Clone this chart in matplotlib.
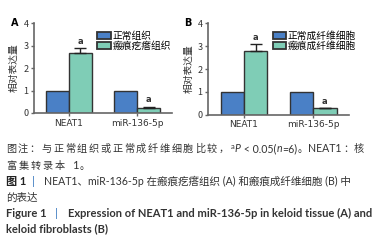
import matplotlib

matplotlib.use("Agg")

import matplotlib.pyplot as plt

plt.rcParams["font.family"] = ["Noto Sans CJK SC", "DejaVu Sans"]

# -------------------------------------------------------------------------
# Données
# -------------------------------------------------------------------------

genes = ["NEAT1", "miR-136-5p"]

tissue_normal = [1.0, 1.0]
tissue_keloid = [2.67, 0.24]
tissue_keloid_err = [0.20, 0.03]

cells_normal = [1.0, 1.0]
cells_keloid = [2.80, 0.29]
cells_keloid_err = [0.27, 0.0]

legend_a = ["正常组织", "瘢痕疙瘩组织"]
legend_b = ["正常成纤维细胞", "瘢痕成纤维细胞"]

BLUE = "#4a80c6"
GREEN = "#7fcdb6"
EDGE = "#333333"
AXIS = "#666666"
TXT = "#333333"
BAR_BLUE = "#2a6ebb"

MIXED = ["Lato", "Noto Sans CJK SC"]
W, H = 384, 243


def panel(ax, normal, keloid, err, labels, letter):
    w = 0.335
    pos = range(len(genes))
    b1 = ax.bar([p - w / 2 for p in pos], normal, w, color=BLUE,
                edgecolor=EDGE, linewidth=1.0)
    b2 = ax.bar([p + w / 2 for p in pos], keloid, w, color=GREEN,
                edgecolor=EDGE, linewidth=1.0)
    ax.errorbar([p + w / 2 for p in pos], keloid, yerr=[[0] * len(err), err],
                fmt="none", ecolor="#222222", elinewidth=1.0, capsize=4,
                capthick=1.0)
    for p, v, e in zip(pos, keloid, err):
        ax.text(p + w / 2, v + e + 0.12, "a", ha="center", va="bottom",
                fontsize=6, fontweight="bold", color=TXT,
                family="DejaVu Sans")
    ax.set_ylim(0, 4)
    ax.set_xlim(-0.515, 1.515)
    ax.set_yticks([0, 1, 2, 3, 4])
    ax.set_xticks(list(pos))
    ax.set_xticklabels(genes, fontsize=6.5, color=TXT, family="DejaVu Sans")
    ax.tick_params(axis="y", labelsize=6.5, length=2.5, width=1.0,
                   color=AXIS, pad=1.5, labelcolor=TXT)
    ax.tick_params(axis="x", length=2.5, width=1.0, color=AXIS, pad=1.5)
    for s in ["top", "right"]:
        ax.spines[s].set_visible(False)
    for s in ["left", "bottom"]:
        ax.spines[s].set_color(AXIS)
        ax.spines[s].set_linewidth(1.2)
    ax.set_ylabel("相对表达量", fontsize=7, color=TXT, labelpad=3)
    leg = ax.legend([b1, b2], labels, loc="upper left",
                    bbox_to_anchor=(0.41, 0.99), frameon=False, fontsize=7,
                    handlelength=1.4, handleheight=0.75, handletextpad=0.15,
                    labelspacing=0.05, borderpad=0.2)
    for h in leg.legend_handles:
        h.set_linewidth(1.3)
    ax.text(-0.17, 1.0, letter, transform=ax.transAxes, fontsize=7,
            fontweight="bold", family="DejaVu Sans", va="center")


fig = plt.figure(figsize=(3.84, 2.43), dpi=100)

ax_a = fig.add_axes([0.0885, 0.535, 0.36, 0.37])
panel(ax_a, tissue_normal, tissue_keloid, tissue_keloid_err, legend_a, "A")

ax_b = fig.add_axes([0.542, 0.527, 0.367, 0.378])
panel(ax_b, cells_normal, cells_keloid, cells_keloid_err, legend_b, "B")

# -------------------------------------------------------------------------
# Légende de la figure (positions en pixels)
# -------------------------------------------------------------------------

renderer = fig.canvas.get_renderer()


def put(x, base, s, **kw):
    kw.setdefault("color", TXT)
    kw.setdefault("family", MIXED)
    t = fig.text(x / W, 1 - base / H, s, va="baseline", **kw)
    return x + t.get_window_extent(renderer).width


def spaced(x, base, s, pitch, fs):
    for ch in s:
        fig.text(x / W, 1 - base / H, ch, va="baseline", fontsize=fs,
                 color=TXT, family=MIXED)
        x += pitch
    return x


fs_cn = 7.3
fs_en = 8.0

# ligne 1
b = 152
x = spaced(6, b, "图注：与正常组织或正常成纤维细胞比较，", 11.8, fs_cn)
x = put(x + 1, b - 3.5, "a", fontsize=5.5)
x = put(x, b, "P", fontsize=7.6, style="italic")
x = put(x, b, " < 0.05(", fontsize=7.6)
x = put(x, b, "n", fontsize=7.6, style="italic")
x = put(x, b, "=6)", fontsize=7.6)
x = spaced(x + 1, b, "。", 10.5, fs_cn)
x = put(x, b, "NEAT1", fontsize=7.6)
spaced(x + 1, b, "：核", 10.5, fs_cn)

# ligne 2
b = 169
x = spaced(6, b, "富集转录本", 12.2, fs_cn)
x = put(x + 5, b, "1", fontsize=fs_en)
spaced(x + 1, b, "。", 11.8, fs_cn)

# ligne 3-4
b = 185
x = put(6, b, "图 1", fontsize=fs_en, fontweight="bold", color="#222222")
put(32, b, "|", fontsize=fs_en, color=BAR_BLUE)
put(44, b, "NEAT1、miR-136-5p 在瘢痕疙瘩组织 (A) 和瘢痕成纤维细胞 (B) 中",
    fontsize=7.6)
put(6, 201, "的表达", fontsize=7.6)

# ligne 5-6
b = 217
put(6, b, "Figure 1", fontsize=fs_en, fontweight="bold")
put(55, b, "|", fontsize=fs_en, color=BAR_BLUE)
put(68, b, "Expression of NEAT1 and miR-136-5p in keloid tissue (A) and",
    fontsize=fs_en, fontweight="bold")
put(6, 232, "keloid fibroblasts (B)", fontsize=fs_en, fontweight="bold")

fig.savefig("out.png", dpi=100)
